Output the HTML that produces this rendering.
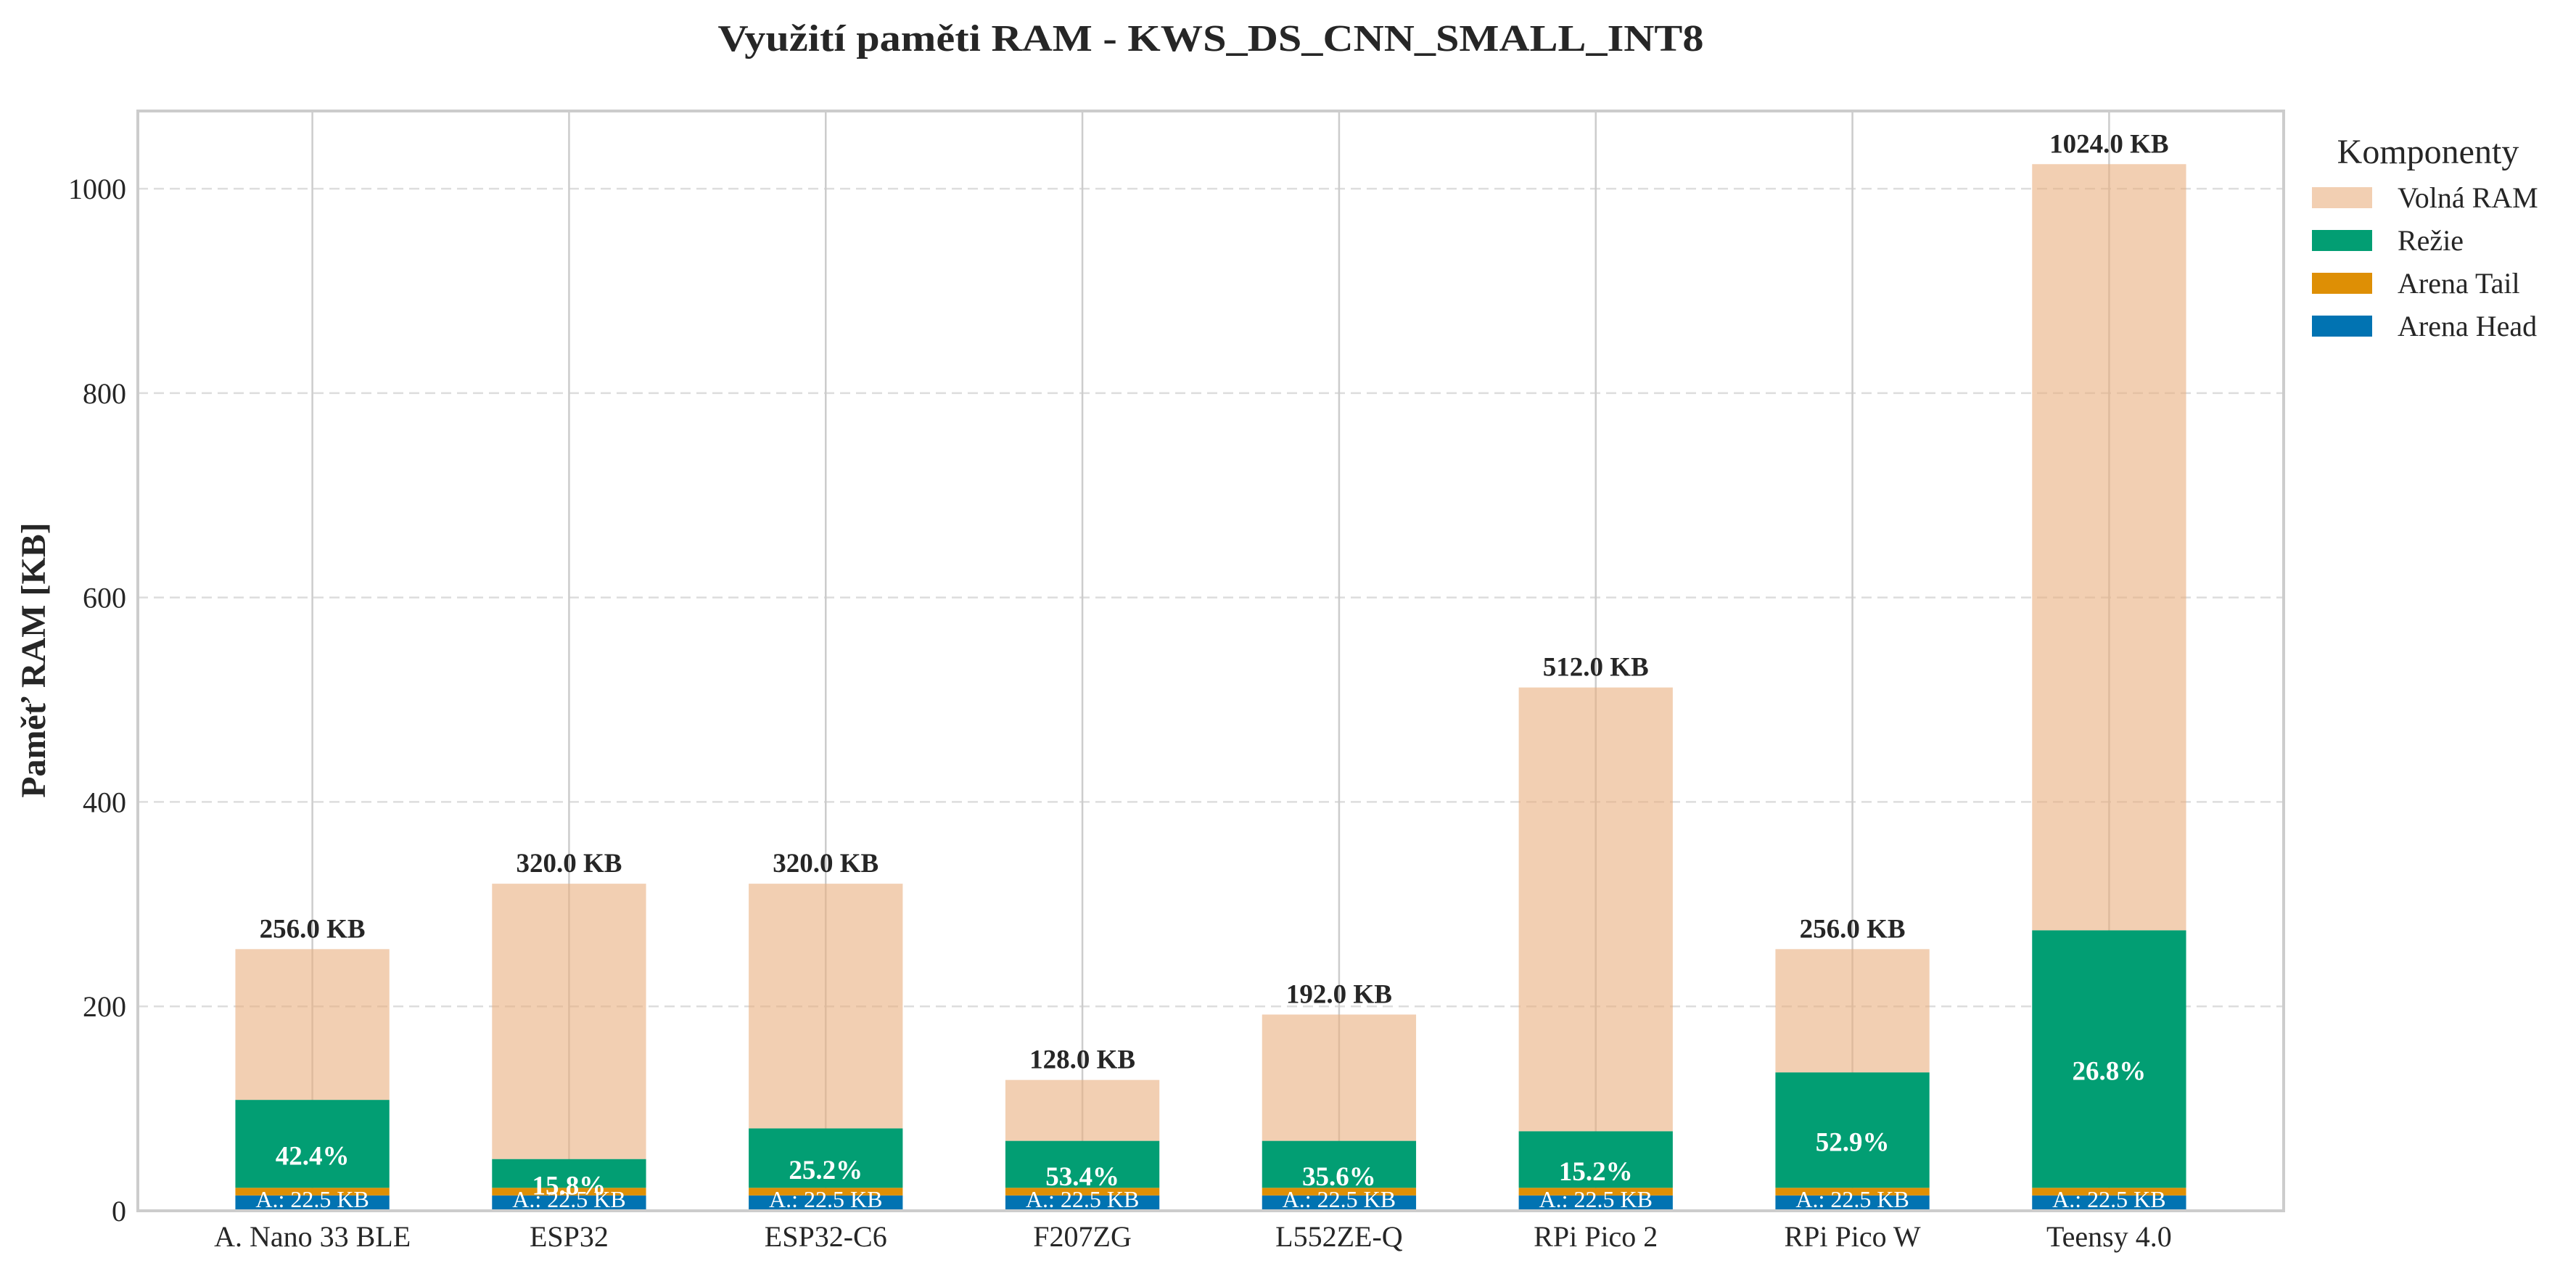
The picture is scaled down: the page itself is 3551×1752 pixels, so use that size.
<!DOCTYPE html>
<html><head><meta charset="utf-8"><style>
html,body{margin:0;padding:0;background:#fff}
svg{display:block;font-family:"Liberation Serif",serif}
</style></head><body>
<svg id="chart" width="3551" height="1752" viewBox="0 0 3551 1752" xmlns="http://www.w3.org/2000/svg">
<rect width="3551" height="1752" fill="#fff"/>
<text x="1669" y="70" text-anchor="middle" font-size="52" font-weight="bold" fill="#262626" textLength="1359" lengthAdjust="spacingAndGlyphs">Využití paměti RAM - KWS_DS_CNN_SMALL_INT8</text>
<text transform="translate(62,910) rotate(-90)" text-anchor="middle" font-size="48" font-weight="bold" fill="#262626">Paměť RAM [KB]</text>
<g id="grid"></g>
<g id="bars"></g>
<g id="labels"></g>
<rect x="190" y="153" width="2958" height="1516" fill="none" stroke="#cccccc" stroke-width="4"/>
<g id="ticks"></g>
<g>
<text x="3347" y="225" text-anchor="middle" font-size="48" fill="#262626">Komponenty</text>
<g><rect x="3187" y="258" width="83" height="29" fill="#F2CFB2"/><text x="3305" y="286" font-size="40" fill="#262626">Volná RAM</text></g>
<g><rect x="3187" y="317" width="83" height="29" fill="#029E73"/><text x="3305" y="345" font-size="40" fill="#262626">Režie</text></g>
<g><rect x="3187" y="376" width="83" height="29" fill="#DE8F05"/><text x="3305" y="404" font-size="40" fill="#262626">Arena Tail</text></g>
<g><rect x="3187" y="435" width="83" height="29" fill="#0173B2"/><text x="3305" y="463" font-size="40" fill="#262626">Arena Head</text></g>
</g>
</svg>
<script>
const categories = ["A. Nano 33 BLE","ESP32","ESP32-C6","F207ZG","L552ZE-Q","RPi Pico 2","RPi Pico W","Teensy 4.0"];
const totalRam = [256,320,320,128,192,512,256,1024];
const arenaHead = [15,15,15,15,15,15,15,15];
const arenaTail = [7.5,7.5,7.5,7.5,7.5,7.5,7.5,7.5];
const overhead = [86,28.1,58.1,45.9,45.9,55.3,112.9,251.9];
const yTicks = [0,200,400,600,800,1000];

const NS = "http://www.w3.org/2000/svg";
const X0 = 190, X1 = 3148, Y0 = 1669, Y1 = 153;
const xMin = -0.68, xMax = 7.68, yMin = 0, yMax = 1076;
function xs(i){ return X0 + (i - xMin) / (xMax - xMin) * (X1 - X0); }
function ys(v){ return Y0 - (v - yMin) / (yMax - yMin) * (Y0 - Y1); }
const bw = 0.6 * (xs(1) - xs(0));
function mk(tag, attrs, parent){ const e = document.createElementNS(NS, tag); for (const k in attrs) e.setAttribute(k, attrs[k]); parent.appendChild(e); return e; }
const grid = document.getElementById('grid'), bars = document.getElementById('bars'), labels = document.getElementById('labels'), ticks = document.getElementById('ticks');

yTicks.forEach(t => {
  if (t > 0) {
    const l = mk('line', {x1:X0, x2:X1, y1:ys(t), y2:ys(t), stroke:'#dddddd', 'stroke-width':2.5, 'stroke-dasharray':'14,8'}, grid);
    
    
  }
  const tx = mk('text', {x:174, y:ys(t)+14, 'text-anchor':'end', 'font-size':40, fill:'#262626'}, ticks);
  tx.textContent = t;
  
  
});

categories.forEach((c, i) => {
  const cx = xs(i);
  const g = mk('line', {x1:cx, x2:cx, y1:Y1, y2:Y0, stroke:'#cccccc', 'stroke-width':2.5}, grid);
  
  
  const x = cx - bw/2;
  const h0 = arenaHead[i], h1 = h0 + arenaTail[i], h2 = h1 + overhead[i];
  const b1 = mk('rect', {x:x, width:bw, y:ys(h0), height:ys(0)-ys(h0), fill:'#0173B2'}, bars);
  
  
  const b2 = mk('rect', {x:x, width:bw, y:ys(h1), height:ys(h0)-ys(h1), fill:'#DE8F05'}, bars);
  
  
  const b3 = mk('rect', {x:x, width:bw, y:ys(h2), height:ys(h1)-ys(h2), fill:'#029E73'}, bars);
  
  
  const b4 = mk('rect', {x:x, width:bw, y:ys(totalRam[i]), height:ys(h2)-ys(totalRam[i]), fill:'#E9AF7F', 'fill-opacity':0.6}, bars);
  
  

  const t1 = mk('text', {x:cx, y:ys(totalRam[i])-16, 'text-anchor':'middle', 'font-size':37, 'font-weight':'bold', fill:'#262626'}, labels);
  t1.textContent = totalRam[i].toFixed(1) + ' KB';
  
  
  const pct = h2 / totalRam[i] * 100;
  const t2 = mk('text', {x:cx, y:ys(h2/2)+13, 'text-anchor':'middle', 'font-size':37, 'font-weight':'bold', fill:'#ffffff'}, labels);
  t2.textContent = pct.toFixed(1) + '%';
  
  
  const t3 = mk('text', {x:cx, y:ys(h1/2)+11, 'text-anchor':'middle', 'font-size':32, fill:'#ffffff'}, labels);
  t3.textContent = 'A.: ' + h1.toFixed(1) + ' KB';
  
  

  const xt = mk('text', {x:cx, y:1718, 'text-anchor':'middle', 'font-size':40, fill:'#262626'}, ticks);
  xt.textContent = c;
  
  
});
</script>
</body></html>
